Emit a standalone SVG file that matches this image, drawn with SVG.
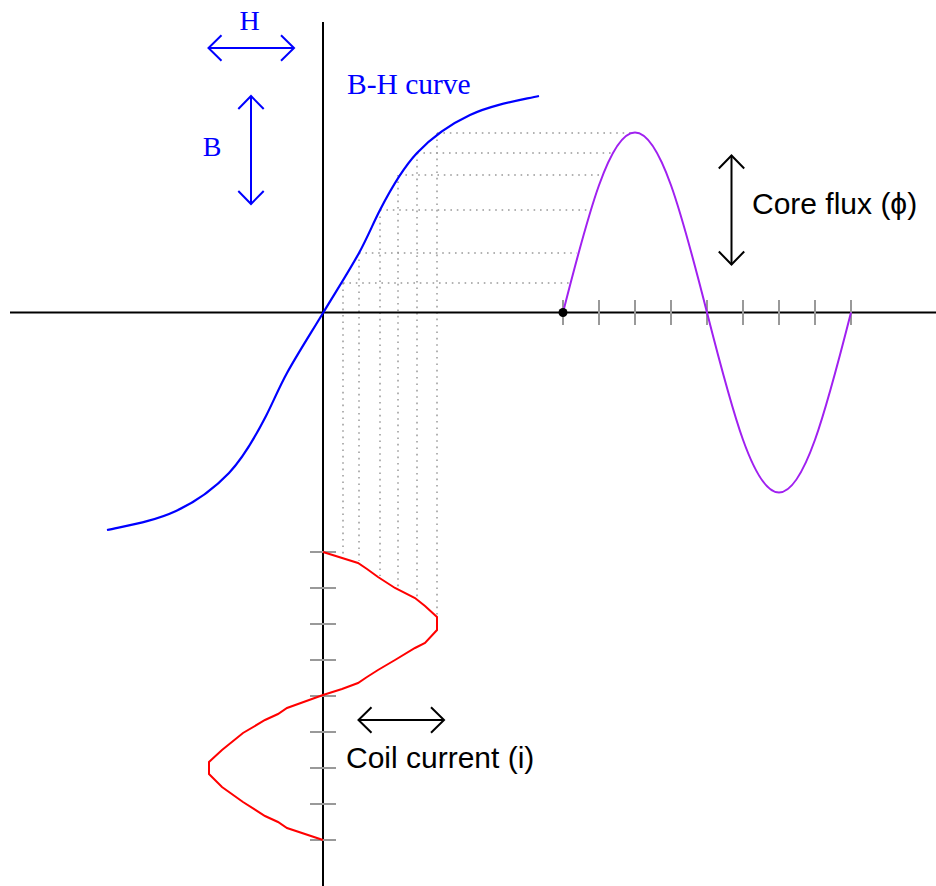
<svg xmlns="http://www.w3.org/2000/svg" width="936" height="886" viewBox="0 0 936 886">
<style>
.axis{stroke:#000;stroke-width:2;fill:none}
.tick{stroke:#999;stroke-width:2;fill:none}
.dot{stroke:#999;stroke-width:1.5;stroke-dasharray:1.6 4.8;fill:none}
.serif{font-family:"Liberation Serif","Times New Roman",serif;font-size:28px;fill:#0000ff}
.sans{font-family:"Liberation Sans",Arial,sans-serif;font-size:30px;fill:#000}
.barrow{stroke:#0000ff;stroke-width:2;fill:none}
.karrow{stroke:#000;stroke-width:2;fill:none}
</style>
<defs>
<marker id="chevB" viewBox="-16 -16 32 32" markerWidth="32" markerHeight="32" refX="0" refY="0" markerUnits="userSpaceOnUse" orient="auto-start-reverse" overflow="visible">
<path d="M-13,-12.7 L0,0 L-13,12.7" fill="none" stroke="#0000ff" stroke-width="2"/>
</marker>
<marker id="chevK" viewBox="-16 -16 32 32" markerWidth="32" markerHeight="32" refX="0" refY="0" markerUnits="userSpaceOnUse" orient="auto-start-reverse" overflow="visible">
<path d="M-13,-12.7 L0,0 L-13,12.7" fill="none" stroke="#000" stroke-width="2"/>
</marker>
</defs>
<rect width="936" height="886" fill="#fff"/>

<g id="guides">
<path class="dot" d="M343,283 H569 M359,253 H577 M380,210 H590 M399,175 H602 M417,153 H612 M437,133 H631"/>
<path class="dot" d="M343,283 V556 M359,253 V561 M380,210 V576 M398,175 V587 M417,153 V597 M437,133 V615"/>
</g>

<g id="axes">
<line class="axis" x1="10" y1="312.5" x2="936" y2="312.5"/>
<line class="axis" x1="323" y1="22" x2="323" y2="886"/>
<path class="tick" d="M563,300V325 M599,300V325 M635,300V325 M671,300V325 M707,300V325 M743,300V325 M779,300V325 M815,300V325 M851,300V325"/>
<path class="tick" d="M310,552H336 M310,588H336 M310,624H336 M310,660H336 M310,696H336 M310,732H336 M310,768H336 M310,804H336 M310,840H336"/>
</g>

<g id="bh-curve">
<path d="M107,530 C130,525 154.6,521 176,511 C195.3,502 214,488.8 229,473 C243,458 254.7,438 266,416 C273,402.4 279.3,386.9 287,373 C298.3,352.6 311,333 323,313 C335,293 347.7,273.4 359,253 C366.7,239.1 373,223.6 380,210 C391.3,188 403,168 417,153 C432,137.2 450.7,124 470,115 C491.4,105 516,101 539,96" fill="none" stroke="#0000ff" stroke-width="2.2"/>
</g>

<g id="flux-wave">
<path d="M563,312.5 C588.3,213.1 609.7,132.5 635,132.5 C660.3,132.5 681.7,213.1 707,312.5 C732.3,411.9 753.7,492.5 779,492.5 C804.3,492.5 825.7,411.9 851,312.5" fill="none" stroke="#a020f0" stroke-width="2"/>
<circle cx="563" cy="312.5" r="4.5" fill="#000"/>
</g>

<g id="current-wave">
<polyline points="323,552 358,563 367,569 378,577 395,588 415,598 425,606 437,617 437,630 425,643 415,648 395,660 378,670 367,677 358,683 342,689 323,695 287,708 278,714 265,720 243,733 222,750 209,762 209,774 222,787 243,802 265,816 278,822 287,828 323,840" fill="none" stroke="#ff0000" stroke-width="2"/>
</g>

<g id="connectors">
<line class="barrow" x1="208.5" y1="48" x2="294" y2="48" marker-start="url(#chevB)" marker-end="url(#chevB)"/>
<line class="barrow" x1="251" y1="96" x2="251" y2="204" marker-start="url(#chevB)" marker-end="url(#chevB)"/>
<line class="karrow" x1="731.5" y1="155.5" x2="731.5" y2="264.5" marker-start="url(#chevK)" marker-end="url(#chevK)"/>
<line class="karrow" x1="358.5" y1="720" x2="444" y2="720" marker-start="url(#chevK)" marker-end="url(#chevK)"/>
</g>

<g id="labels">
<text class="serif" x="249.5" y="30" text-anchor="middle">H</text>
<text class="serif" x="212" y="156" text-anchor="middle">B</text>
<text class="serif" x="347" y="94" style="font-size:29.5px">B-H curve</text>
<text class="sans" x="752" y="214">Core flux (ϕ)</text>
<text class="sans" x="346" y="768">Coil current (i)</text>
</g>
</svg>
